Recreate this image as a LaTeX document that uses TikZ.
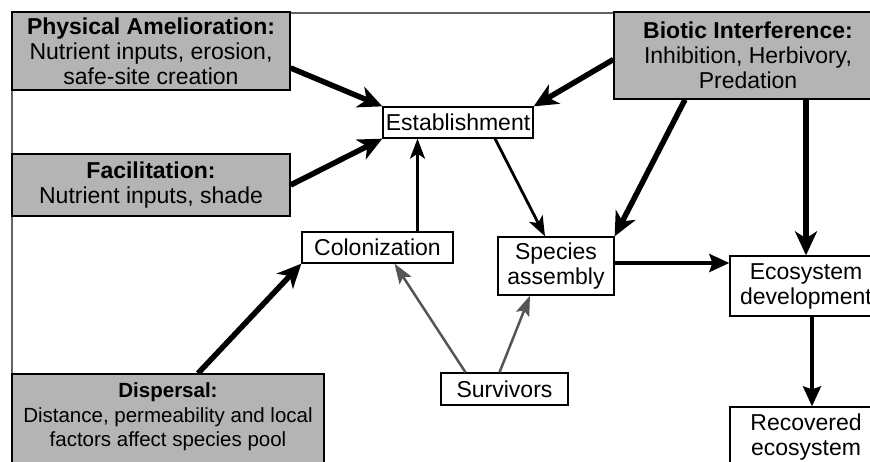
\documentclass[tikz,border=0pt]{standalone}
\usepackage{fontspec}
\setmainfont{Liberation Sans}
\usetikzlibrary{arrows.meta}

\definecolor{boxgray}{RGB}{180,180,180}
\definecolor{arrowgray}{RGB}{85,85,85}
\definecolor{framegray}{RGB}{100,100,100}

\begin{document}
\begin{tikzpicture}[x=1pt,y=-1pt,
    every node/.style={font=\fontsize{23}{25}\selectfont, align=center, inner sep=0pt},
    greybox/.style={draw=black, line width=1.3pt, fill=boxgray},
    whitebox/.style={draw=black, line width=1.3pt, fill=white},
    bigarrow/.style={line width=5.5pt, -{Stealth[length=24pt,width=22pt,inset=7pt]}},
    midarrow/.style={line width=2.8pt, -{Stealth[length=20pt,width=15pt,inset=5pt]}},
    flowarrow/.style={line width=3.5pt, -{Stealth[length=20pt,width=18pt,inset=3pt]}},
    greyarrow/.style={arrowgray, line width=2.5pt, -{Stealth[length=20pt,width=14pt,inset=4pt]}}]

    % 画布大小
    \useasboundingbox (0,0) rectangle (870,461);
    \clip (0,0) rectangle (870,461);

    % 外框
    \draw[framegray, line width=1.5pt] (12,480) -- (12,13) -- (890,13);

    % 灰色方框
    \node[greybox, minimum width=278pt, minimum height=78pt] (phys) at (151,51)
        {\textbf{Physical Amelioration:}\\Nutrient inputs, erosion,\\safe-site creation};
    \node[greybox, minimum width=278pt, minimum height=62pt] (facil) at (151,185)
        {\textbf{Facilitation:}\\Nutrient inputs, shade};
    \node[greybox, minimum width=268pt, minimum height=87pt] (biotic) at (748,55.5)
        {\textbf{Biotic Interference:}\\Inhibition, Herbivory,\\Predation};
    \node[greybox, minimum width=312pt, minimum height=98pt] (disp) at (168,423) {};
    \node[font=\fontsize{20.5}{24.5}\selectfont] (disptext) at (168,417)
        {\textbf{Dispersal:}\\Distance, permeability and local\\factors affect species pool};

    % 白色方框
    \node[whitebox, minimum width=150pt, minimum height=31pt] (estab) at (458,122.5) {Establishment};
    \node[whitebox, minimum width=151pt, minimum height=31pt] (colon) at (377.5,247.5) {Colonization};
    \node[whitebox, minimum width=116pt, minimum height=58pt] (species) at (556,266) {Species\\assembly};
    \node[whitebox, minimum width=152pt, minimum height=60pt] (ecodev) at (806,286) {Ecosystem\\development};
    \node[whitebox, minimum width=152pt, minimum height=60pt] (recov) at (806,437) {Recovered\\ecosystem};
    \node[whitebox, minimum width=127pt, minimum height=32pt] (surv) at (504.5,389) {Survivors};

    % 粗箭头
    \draw[bigarrow] ([yshift=-17pt]phys.east) -- (estab.north west);
    \draw[bigarrow] (facil.east) -- (estab.south west);
    \draw[bigarrow] ([yshift=-4pt]biotic.west) -- (estab.north east);
    \draw[bigarrow] ([xshift=-63pt]biotic.south) -- (species.north east);
    \draw[bigarrow] (biotic.south -| ecodev.north) -- (ecodev.north);
    \draw[bigarrow] ([xshift=30pt]disp.north) -- (colon.south west);

    % 中等箭头
    \draw[midarrow] ([xshift=37pt]estab.south) -- ([xshift=-11pt]species.north);
    \draw[midarrow] ([xshift=40pt]colon.north) -- ([xshift=40pt]colon.north |- estab.south);
    \draw[flowarrow] ([yshift=3pt]species.east) -- ([yshift=3pt]species.east -| ecodev.west);
    \draw[flowarrow] ([xshift=6pt]ecodev.south) -- ([xshift=6pt]ecodev.south |- recov.north);

    % 灰色箭头
    \draw[greyarrow] ([xshift=-39pt]surv.north) -- ([xshift=17pt]colon.south);
    \draw[greyarrow] ([xshift=-5pt]surv.north) -- ([xshift=-26pt]species.south);

\end{tikzpicture}
\end{document}
